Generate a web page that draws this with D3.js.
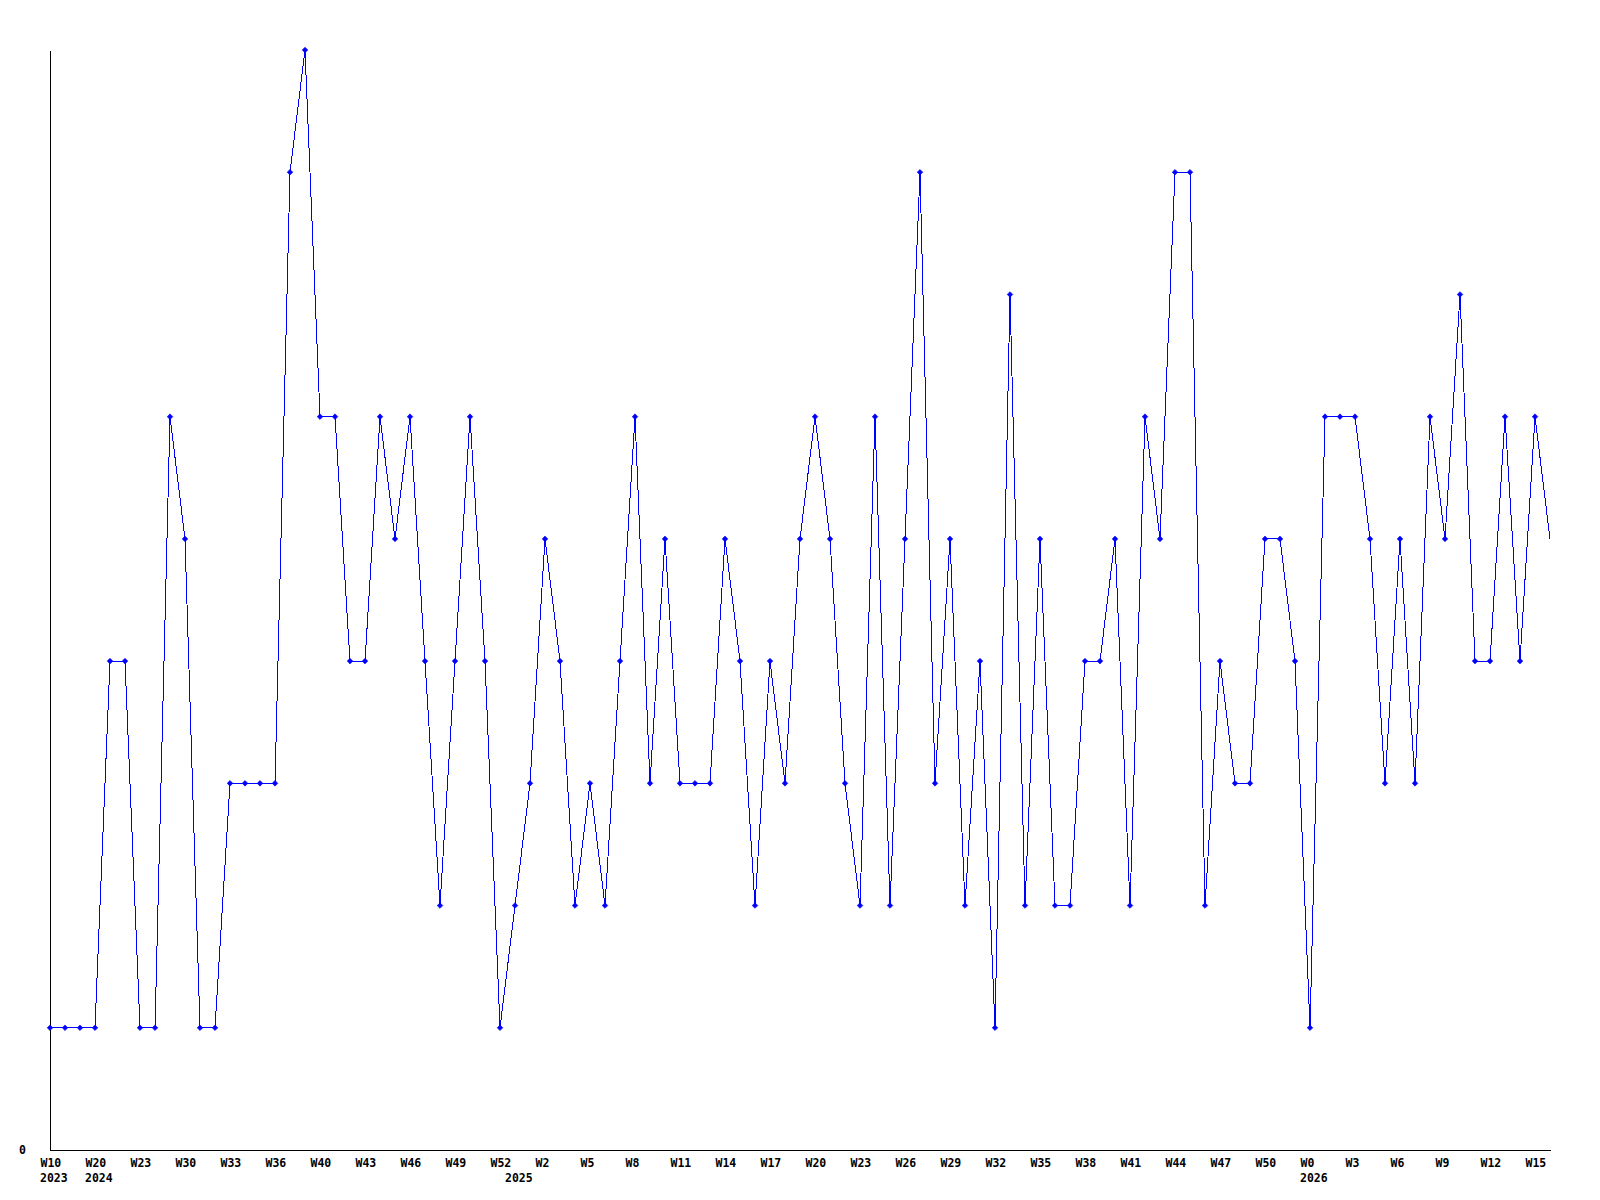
<!DOCTYPE html>
<html>
<head>
<meta charset="utf-8">
<script src="https://cdn.jsdelivr.net/npm/d3@7"></script>
<style>
  html, body { margin: 0; padding: 0; background: #fff; }
  svg { display: block; }
  text { font-family: "DejaVu Sans Mono", "Liberation Mono", monospace; font-weight: bold; font-size: 11.5px; fill: #000; }
</style>
</head>
<body>
<svg id="chart" width="1600" height="1200"></svg>
<script>
// Weekly counts, one per point (101 points)
const values = [
  1,1,1,1,4,4,1,1,6,5,
  1,1,3,3,3,3,8,9,6,6,
  4,4,6,5,6,4,2,4,6,4,
  1,2,3,5,4,2,3,2,4,6,
  3,5,3,3,3,5,4,2,4,3,
  5,6,5,3,2,6,2,5,8,3,
  5,2,4,1,7,2,5,2,2,4,
  4,5,2,6,5,8,8,2,4,3,
  3,5,5,4,1,6,6,6,5,3,
  5,3,6,5,7,4,4,6,4,6,
  5
];
// X tick labels (every third point)
const tickIndex = d3.range(0, 100, 3);
const tickLabels = ["W10","W20","W23","W30","W33","W36","W40","W43","W46","W49","W52","W2",
  "W5","W8","W11","W14","W17","W20","W23","W26","W29","W32","W35","W38","W41","W44",
  "W47","W50","W0","W3","W6","W9","W12","W15"];
// Year labels (second line)
const yearIndex = [0, 3, 31, 84];
const yearLabels = ["2023","2024","2025","2026"];
const yTicks = [0];

const svg = d3.select("#chart");
const x = d3.scaleLinear().domain([0, values.length - 1]).range([50, 1550]);
const y = d3.scaleLinear().domain([0, 9]).range([1150, 50]);

// X axis
const xAxis = svg.append("g")
  .attr("transform", `translate(0,${y(0)})`)
  .call(d3.axisBottom(x).tickValues(tickIndex).tickSize(0).tickSizeOuter(0)
    .tickFormat((d, i) => tickLabels[i]));
xAxis.select(".domain").attr("stroke", "#000").attr("shape-rendering", "crispEdges");
xAxis.selectAll(".tick text")
  .attr("text-anchor", "start").attr("dx", -10).attr("y", 0).attr("dy", 17);
xAxis.attr("font-family", null).attr("font-size", null);

// Year labels
svg.append("g").selectAll("text").data(yearIndex).join("text")
  .attr("x", d => x(d) - 10).attr("y", y(0) + 32)
  .attr("text-anchor", "start")
  .text((d, i) => yearLabels[i]);

// Y axis
const yAxis = svg.append("g")
  .attr("transform", `translate(${x(0)},0)`)
  .call(d3.axisLeft(y).tickValues(yTicks).tickSize(0).tickSizeOuter(0).tickPadding(24)
    .tickFormat(d3.format("d")));
yAxis.select(".domain").attr("stroke", "#000").attr("shape-rendering", "crispEdges");
yAxis.attr("font-family", null).attr("font-size", null);
yAxis.selectAll(".tick text").attr("dy", "0.3em");

// Line
const line = d3.line().x((d, i) => x(i)).y(d => y(d));
svg.append("path").datum(values)
  .attr("d", line)
  .attr("fill", "none").attr("stroke", "#0000ff").attr("stroke-width", 1)
  .attr("shape-rendering", "crispEdges");

// Markers (last point has none)
svg.append("g").selectAll("path").data(values.slice(0, values.length - 1)).join("path")
  .attr("transform", (d, i) => `translate(${x(i)},${y(d)})`)
  .attr("d", "M0,-2.8L2.8,0L0,2.8L-2.8,0Z")
  .attr("fill", "#0000ff")
  .attr("stroke", "#0000ff").attr("stroke-width", 0.6);
</script>
</body>
</html>
